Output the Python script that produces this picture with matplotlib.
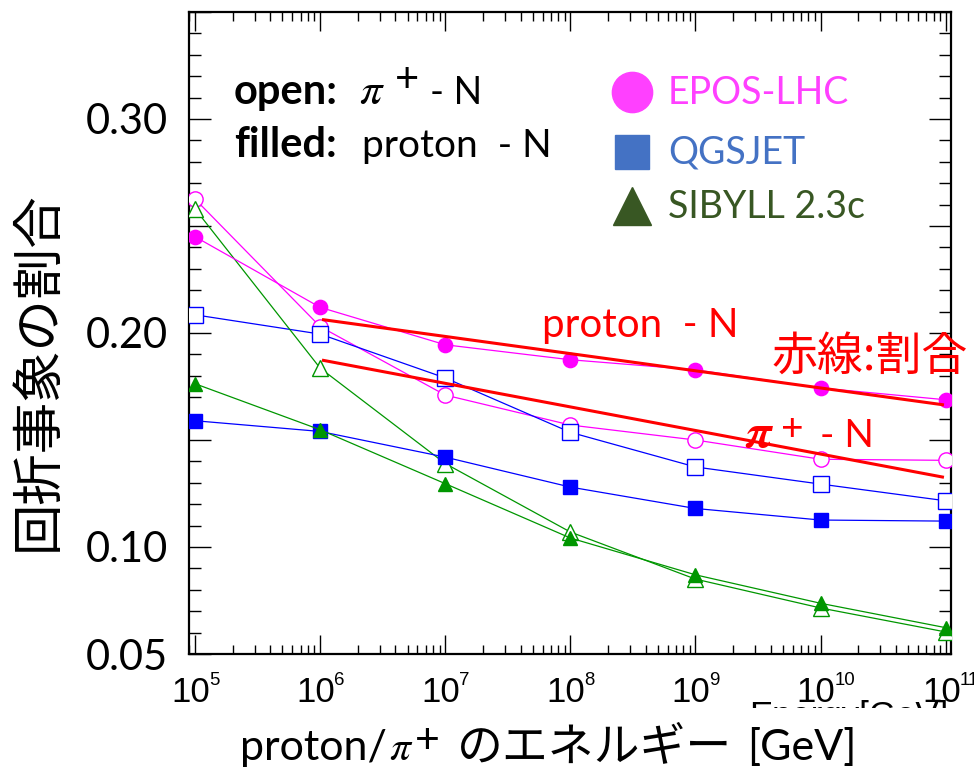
import numpy as np
import matplotlib
matplotlib.use('Agg')
import matplotlib.pyplot as plt
from matplotlib.ticker import FixedLocator, FixedFormatter, LogLocator, NullFormatter
from matplotlib.patches import Rectangle

plt.rcParams['mathtext.fontset'] = 'stix'

# energies of the simulated primaries [GeV]
energy = [1e5, 1e6, 1e7, 1e8, 1e9, 1e10, 1e11]

# diffractive fraction, filled = proton-N, open = pi+-N
epos_p = [0.245, 0.212, 0.1945, 0.1875, 0.1828, 0.1743, 0.1688]
epos_pi = [0.2626, 0.203, 0.171, 0.157, 0.150, 0.141, 0.1405]
qgs_p = [0.159, 0.154, 0.142, 0.128, 0.118, 0.1126, 0.1121]
qgs_pi = [0.2085, 0.1995, 0.179, 0.1536, 0.1374, 0.1294, 0.1216]
sib_p = [0.1763, 0.1548, 0.1296, 0.1042, 0.087, 0.0737, 0.0623]
sib_pi = [0.258, 0.1836, 0.139, 0.107, 0.085, 0.0715, 0.0603]

# red trend lines
fit_e = [1.064e6, 9.42e10]
fit_p = [0.2062, 0.1665]
fit_pi = [0.1872, 0.1327]

models = ['EPOS-LHC', 'QGSJET', 'SIBYLL 2.3c']
line_colors = ['#ff00ff', '#0000ff', '#009600']
legend_colors = ['#ff40ff', '#4472c4', '#385723']
markers = ['o', 's', '^']
series_p = [epos_p, qgs_p, sib_p]
series_pi = [epos_pi, qgs_pi, sib_pi]
ms_filled = [10.3, 10.3, 9.5]
ms_open = [11, 11, 11]

xt = [1e5, 1e6, 1e7, 1e8, 1e9, 1e10, 1e11]
xt_exp = [5, 6, 7, 8, 9, 10, 11]
yt = [0.05, 0.10, 0.15, 0.20, 0.25, 0.30, 0.35]
yt_labels = ['0.05', '0.10', '', '0.20', '', '0.30', '']

W, H = 974, 770
fig = plt.figure(figsize=(W / 100, H / 100), dpi=100)
ax = fig.add_axes([189 / W, 1 - 654 / H, (950.7 - 189) / W, (654 - 12) / H])

for ys, c, m, s in zip(series_pi, line_colors, markers, ms_open):
    ax.plot(energy, ys, color=c, lw=0.9, marker=m, ms=s, mfc='white', mec=c, mew=1.0, zorder=3)
for ys, c, m, s in zip(series_p, line_colors, markers, ms_filled):
    ax.plot(energy, ys, color=c, lw=0.9, marker=m, ms=s, mfc=c, mec=c, zorder=4)

ax.plot(fit_e, fit_p, color='red', lw=2.2, zorder=5)
ax.plot(fit_e, fit_pi, color='red', lw=2.2, zorder=5)

ax.set_xscale('log')
ax.set_xlim(10 ** 4.952, 10 ** 11.04)
ax.set_ylim(0.05, 0.35)

ax.xaxis.set_major_locator(FixedLocator(xt))
ax.xaxis.set_major_formatter(NullFormatter())
ax.xaxis.set_minor_locator(LogLocator(base=10, subs=np.arange(2, 10), numticks=20))
ax.xaxis.set_minor_formatter(NullFormatter())

ax.yaxis.set_major_locator(FixedLocator(yt))
ax.yaxis.set_major_formatter(FixedFormatter(yt_labels))
ax.yaxis.set_minor_locator(FixedLocator(np.arange(0.05, 0.351, 0.01)))

ax.tick_params(axis='x', which='major', direction='in', length=13.7, width=1.0, top=True)
ax.tick_params(axis='x', which='minor', direction='in', length=6.5, width=1.0, top=True)
ax.tick_params(axis='y', which='major', direction='in', length=16, width=1.0, right=True, pad=15)
ax.tick_params(axis='y', which='minor', direction='in', length=8.6, width=1.0, right=True)
for lab in ax.get_yticklabels():
    lab.set_family('Lato')
    lab.set_fontsize(30)
for sp in ax.spines.values():
    sp.set_linewidth(1.6)

# ROOT style 10^n labels with a small exponent
for e, n in zip(xt, xt_exp):
    ax.annotate('10', xy=(e, 0), xycoords=('data', 'axes fraction'), xytext=(15, -47.7),
                textcoords='offset pixels', ha='right', va='baseline', fontsize=25,
                family='Liberation Sans', annotation_clip=False)
    ax.annotate(str(n), xy=(e, 0), xycoords=('data', 'axes fraction'), xytext=(14, -31),
                textcoords='offset pixels', ha='left', va='baseline', fontsize=13.4,
                family='Liberation Sans', annotation_clip=False)


def fx(px):
    return px / W


def fy(py):
    return 1 - py / H


# annotation texts
fig.text(fx(234), fy(104), 'open:', fontsize=30, fontweight='bold', family='Lato', va='baseline')
fig.text(fx(359), fy(104), r'$\pi$', fontsize=32, va='baseline')
fig.text(fx(395), fy(92), '+', fontsize=30, family='Lato', va='baseline')
fig.text(fx(430), fy(104), '- N', fontsize=27, family='Lato', va='baseline')
fig.text(fx(234), fy(157), 'filled:', fontsize=30, fontweight='bold', family='Lato', va='baseline')
fig.text(fx(361.7), fy(157), 'proton  - N', fontsize=28, family='Lato', va='baseline')

# legend drawn by hand
leg_y = [91.7, 151.7, 205.7]
leg_ms = [29, 25, 27]
for name, c, m, y, s in zip(models, legend_colors, markers, leg_y, leg_ms):
    ax.plot([fx(631.7)], [fy(y)], marker=m, ms=s, color=c, transform=fig.transFigure, clip_on=False)
    fig.text(fx(668), fy(y + 1), name, color=c, fontsize=27, family='Lato', va='center')

fig.text(fx(541.7), fy(337), 'proton  - N', color='red', fontsize=29, family='Lato', va='baseline')
fig.text(fx(745), fy(447), r'$\boldsymbol{\pi}$', color='red', fontsize=34, va='baseline')
fig.text(fx(781), fy(440), '+', color='red', fontsize=28, family='Lato', va='baseline')
fig.text(fx(820), fy(447), '- N', color='red', fontsize=28, family='Lato', va='baseline')
fig.text(fx(771.7), fy(356.7), '赤線:割合', color='red', fontsize=33,
         family=['Noto Sans CJK JP', 'DejaVu Sans'], va='center')

# y label
fig.text(fx(38), fy(371.5), '回折事象の割合', rotation=90, fontsize=37,
         family=['Noto Sans CJK JP', 'DejaVu Sans'], ha='center', va='center')

# old ROOT axis title, mostly hidden behind the new label
fig.text(fx(948), fy(700), 'Energy[GeV]', fontsize=25, family='Liberation Sans',
         ha='right', va='top', zorder=1)
fig.add_artist(Rectangle((0, 0), 1, fy(708), transform=fig.transFigure, fc='white', ec='none', zorder=2))

# x label in pieces so the Japanese font is used
fig.text(fx(240), fy(760), 'proton/', fontsize=31, family='Lato', va='baseline', zorder=3)
fig.text(fx(389), fy(760), r'$\pi$', fontsize=30, va='baseline', zorder=3)
fig.text(fx(415), fy(752.7), '+', fontsize=31, family='Lato', va='baseline', zorder=3)
fig.text(fx(456.7), fy(760), 'のエネルギー', fontsize=33,
         family=['Noto Sans CJK JP', 'DejaVu Sans'], va='baseline', zorder=3)
fig.text(fx(747), fy(760), '[GeV]', fontsize=31, family='Lato', va='baseline', zorder=3)

fig.savefig('out.png', dpi=100)
